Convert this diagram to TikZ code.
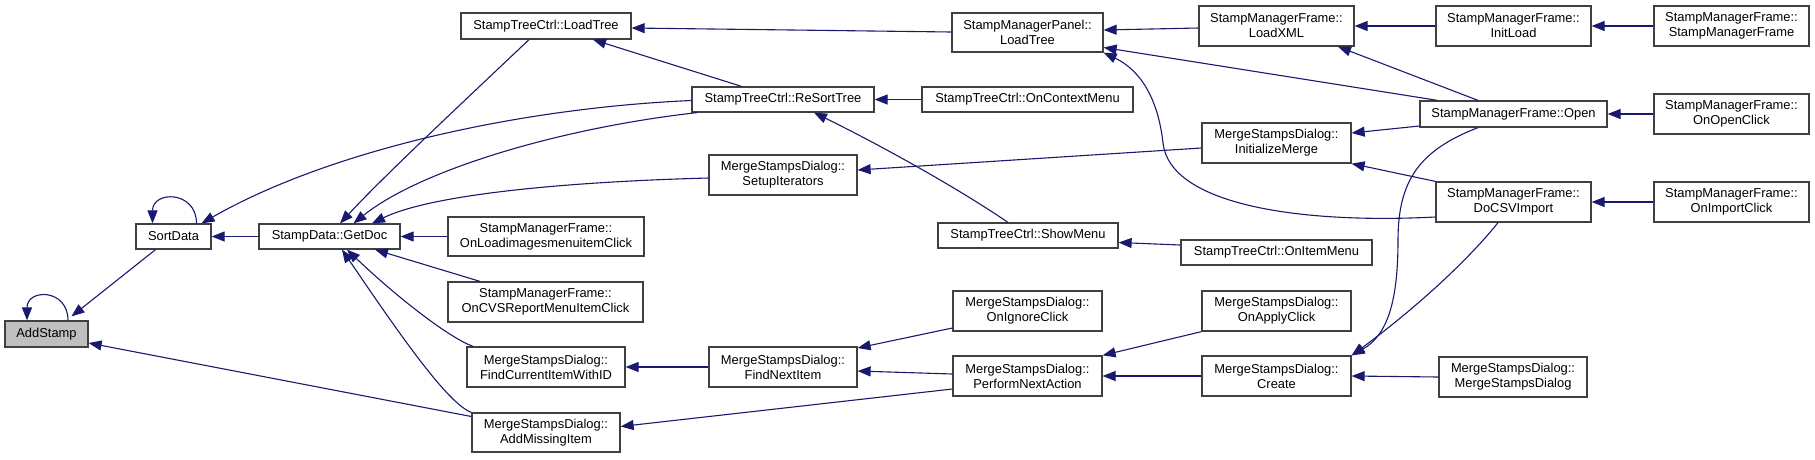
\documentclass[tikz,border=0pt]{standalone}
\usepackage{fontspec}
\setmainfont{Liberation Sans}
\usetikzlibrary{arrows.meta}
\definecolor{edgeblue}{HTML}{191970}
\definecolor{boxline}{HTML}{404040}
\definecolor{hilite}{HTML}{BFBFBF}
\tikzset{
  box/.style={draw=boxline, line width=1.25pt, fill=white, rectangle, inner sep=0pt, align=center,
    font=\fontsize{12.9pt}{15pt}\selectfont},
  arr/.style={draw=edgeblue, line width=1.1pt, -{Triangle[length=13pt,width=10pt]}},
}
\begin{document}
\begin{tikzpicture}[x=1pt,y=-1pt]
\useasboundingbox (0,0) rectangle (1815,459);
\fill[white] (0,0) rectangle (1815,459);
% nodes
\node[box, fill=hilite, minimum width=83pt, minimum height=26pt] (addstamp) at (46.5,334) {AddStamp};
\node[box, minimum width=75pt, minimum height=25pt] (sortdata) at (173.5,236.5) {SortData};
\node[box, minimum width=141pt, minimum height=25pt] (getdoc) at (329.5,236.5) {StampData::GetDoc};
\node[box, minimum width=170pt, minimum height=26pt] (tcload) at (546,26) {StampTreeCtrl::LoadTree};
\node[box, minimum width=182pt, minimum height=25pt] (resort) at (783,99.5) {StampTreeCtrl::ReSortTree};
\node[box, minimum width=148pt, minimum height=40pt] (setupit) at (783,175) {MergeStampsDialog::\\SetupIterators};
\node[box, minimum width=196pt, minimum height=39pt] (onloadimg) at (546,236.5) {StampManagerFrame::\\OnLoadimagesmenuitemClick};
\node[box, minimum width=195pt, minimum height=40pt] (oncvs) at (545.5,302) {StampManagerFrame::\\OnCVSReportMenuItemClick};
\node[box, minimum width=158pt, minimum height=40pt] (findcur) at (546,367) {MergeStampsDialog::\\FindCurrentItemWithID};
\node[box, minimum width=148pt, minimum height=39pt] (addmiss) at (546,432.5) {MergeStampsDialog::\\AddMissingItem};
\node[box, minimum width=148pt, minimum height=40pt] (findnext) at (783,367) {MergeStampsDialog::\\FindNextItem};
\node[box, minimum width=151pt, minimum height=39pt] (panelload) at (1027.5,32.5) {StampManagerPanel::\\LoadTree};
\node[box, minimum width=155pt, minimum height=40pt] (loadxml) at (1276.5,26) {StampManagerFrame::\\LoadXML};
\node[box, minimum width=211pt, minimum height=25pt] (onctx) at (1027.5,99.5) {StampTreeCtrl::OnContextMenu};
\node[box, minimum width=149pt, minimum height=40pt] (initmerge) at (1276.5,143) {MergeStampsDialog::\\InitializeMerge};
\node[box, minimum width=180pt, minimum height=25pt] (showmenu) at (1028,235.5) {StampTreeCtrl::ShowMenu};
\node[box, minimum width=191pt, minimum height=25pt] (onitem) at (1276.5,252.5) {StampTreeCtrl::OnItemMenu};
\node[box, minimum width=149pt, minimum height=40pt] (onignore) at (1027.5,311) {MergeStampsDialog::\\OnIgnoreClick};
\node[box, minimum width=149pt, minimum height=40pt] (onapply) at (1276.5,311) {MergeStampsDialog::\\OnApplyClick};
\node[box, minimum width=149pt, minimum height=40pt] (perform) at (1027.5,376) {MergeStampsDialog::\\PerformNextAction};
\node[box, minimum width=149pt, minimum height=40pt] (create) at (1276.5,376) {MergeStampsDialog::\\Create};
\node[box, minimum width=155pt, minimum height=40pt] (initload) at (1513.5,26) {StampManagerFrame::\\InitLoad};
\node[box, minimum width=155pt, minimum height=40pt] (smfctor) at (1731.5,26) {StampManagerFrame::\\StampManagerFrame};
\node[box, minimum width=187pt, minimum height=26pt] (open) at (1513.5,114) {StampManagerFrame::Open};
\node[box, minimum width=155pt, minimum height=40pt] (onopen) at (1731.5,114) {StampManagerFrame::\\OnOpenClick};
\node[box, minimum width=155pt, minimum height=40pt] (docsv) at (1513.5,202) {StampManagerFrame::\\DoCSVImport};
\node[box, minimum width=155pt, minimum height=40pt] (onimport) at (1731.5,202) {StampManagerFrame::\\OnImportClick};
\node[box, minimum width=148pt, minimum height=40pt] (msdctor) at (1513,377) {MergeStampsDialog::\\MergeStampsDialog};
% edges
\draw[arr] ([xshift=21.5pt]addstamp.north) .. controls +(0,-32) and +(0,-32) .. ([xshift=-19.5pt]addstamp.north);
\draw[arr] ([xshift=23pt]sortdata.north) .. controls +(0,-33) and +(0,-33) .. ([xshift=-21pt]sortdata.north);
\draw[arr] ([xshift=-18pt]sortdata.south) -- ([xshift=25pt,yshift=4pt]addstamp.north);
\draw[arr] ([yshift=16pt]addmiss.west) -- ([yshift=-9pt]addstamp.east);
\draw[arr] (getdoc.west) -- (sortdata.east);
\draw[arr] ([yshift=-1pt]resort.west) .. controls (520,108) and (330,150) .. ([xshift=28pt]sortdata.north);
\draw[arr] ([xshift=-17pt]tcload.south) .. controls (460,105) and (385,175) .. ([xshift=10.5pt]getdoc.north);
\draw[arr] ([xshift=-86pt]resort.south) .. controls (560,128) and (420,170) .. ([xshift=24pt]getdoc.north);
\draw[arr] ([yshift=-3pt]setupit.west) .. controls (560,182) and (430,195) .. ([xshift=42.5pt]getdoc.north);
\draw[arr] (onloadimg.west) -- (getdoc.east);
\draw[arr] ([xshift=-65.5pt]oncvs.north) -- ([xshift=45.5pt]getdoc.south);
\draw[arr] ([xshift=-73pt]findcur.north) .. controls (450,338) and (400,300) .. ([xshift=17.5pt]getdoc.south);
\draw[arr] (addmiss.north west) .. controls (448,404) and (400,335) .. ([xshift=12.5pt]getdoc.south);
\draw[arr] ([xshift=-41.5pt]resort.north) -- ([xshift=47pt]tcload.south);
\draw[arr] ([yshift=0.5pt]panelload.west) -- ([yshift=-2pt]tcload.east);
\draw[arr] (onctx.west) -- (resort.east);
\draw[arr] ([xshift=-20pt]showmenu.north) .. controls (950,183) and (870,140) .. ([xshift=31pt]resort.south);
\draw[arr] ([yshift=-5pt]initmerge.west) -- ([yshift=5pt]setupit.east);
\draw[arr] (findnext.west) -- (findcur.east);
\draw[arr] ([yshift=-17pt]onignore.west) -- ([yshift=19pt]findnext.east);
\draw[arr] ([yshift=2pt]perform.west) -- ([yshift=-4pt]findnext.east);
\draw[arr] ([yshift=-13pt]perform.west) -- ([yshift=6pt]addmiss.east);
\draw[arr] ([yshift=-2pt]loadxml.west) -- ([yshift=2.5pt]panelload.east);
\draw[arr] ([xshift=-76pt]open.north) -- ([yshift=-15pt]panelload.east);
\draw[arr] ([yshift=-15pt]docsv.west) .. controls (1300,224) and (1170,205) .. (1163,143) .. controls (1158,98) and (1140,70) .. (panelload.south east);
\draw[arr] (initload.west) -- (loadxml.east);
\draw[arr] ([xshift=-35.5pt]open.north) -- ([xshift=61.5pt]loadxml.south);
\draw[arr] ([yshift=-12pt]open.west) -- ([yshift=10pt]initmerge.east);
\draw[arr] (docsv.north west) -- (initmerge.south east);
\draw[arr] (smfctor.west) -- (initload.east);
\draw[arr] (onopen.west) -- (open.east);
\draw[arr] (onimport.west) -- (docsv.east);
\draw[arr] ([yshift=7.5pt]onitem.west) -- ([yshift=-7pt]showmenu.east);
\draw[arr] (onapply.south west) -- (perform.north east);
\draw[arr] (create.west) -- (perform.east);
\draw[arr] (msdctor.west) -- (create.east);
\draw[arr] ([xshift=-35.5pt]open.south) .. controls (1420,150) and (1398,180) .. (1398,240) .. controls (1398,300) and (1388,335) .. (create.north east);
\draw[arr] ([xshift=-15.5pt]docsv.south) .. controls (1460,270) and (1400,320) .. (create.north east);
\end{tikzpicture}
\end{document}
